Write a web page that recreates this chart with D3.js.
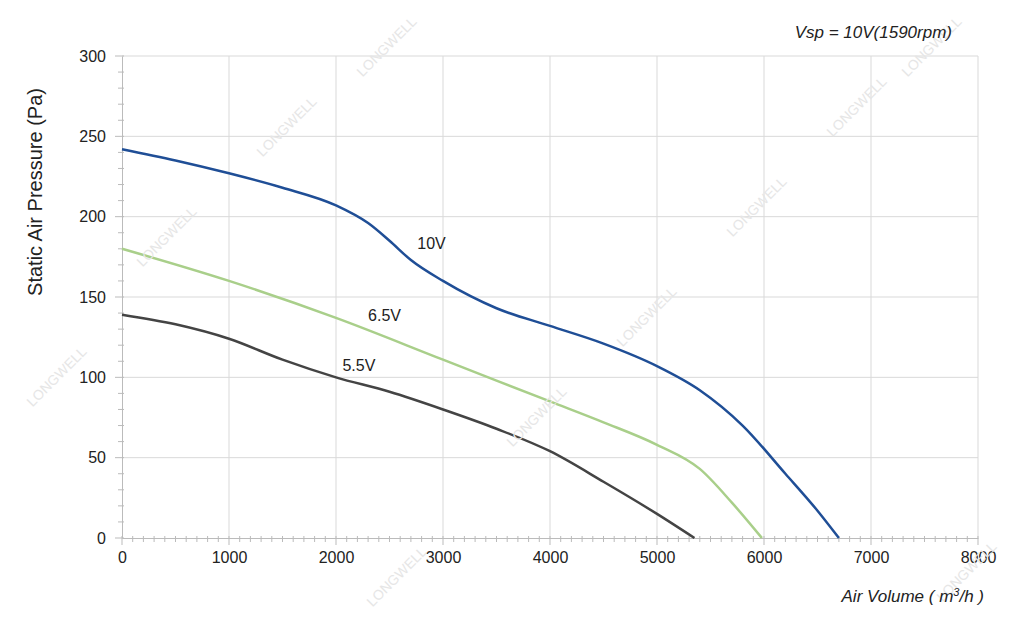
<!DOCTYPE html>
<html><head><meta charset="utf-8">
<script src="https://cdn.jsdelivr.net/npm/d3@7"></script>
<style>body{margin:0;background:#fff}text{font-family:"Liberation Sans",Arial,sans-serif}</style>
</head><body><svg id="c" width="1024" height="628"></svg>
<script>
// data
const curve10 = [[0,242],[500,235],[1000,227],[1500,218],[2000,207],[2300,196],[2500,185],[2700,173],[3000,160],[3500,143],[4000,132],[4500,121],[5000,107],[5400,92],[5800,70],[6200,40],[6500,17],[6700,0]];
const curve65 = [[0,180],[1000,160],[2000,137],[3000,111],[4000,85],[4500,72],[5000,58],[5400,43],[5700,22],[5980,0]];
const curve55 = [[0,139],[500,133],[1000,124],[1500,111],[2000,100],[2500,91],[3000,80],[3500,68],[4000,54],[4500,35],[5000,15],[5350,0]];
const series = [
  {name: "10V", pts: curve10, color: "#1f4e96", label: [2760, 180]},
  {name: "6.5V", pts: curve65, color: "#a9cf8a", label: [2300, 135]},
  {name: "5.5V", pts: curve55, color: "#444444", label: [2060, 104]}
];

const svg = d3.select("#c");
const m = {left: 122, right: 46, top: 56, bottom: 90};
const w = 1024 - m.left - m.right, h = 628 - m.top - m.bottom;
const g = svg.append("g").attr("transform", `translate(${m.left},${m.top})`);

// 水印
[[60,380],[170,240],[290,130],[390,50],[400,580],[540,420],[650,320],[760,210],[860,110],[935,50],[970,575]].forEach(([x,y]) => {
  svg.append("text").attr("transform", `translate(${x},${y}) rotate(-45)`)
    .attr("text-anchor", "middle").attr("font-size", 14).attr("fill", "#e6e6e6").text("LONGWELL");
});

const x = d3.scaleLinear().domain([0, 8000]).range([0, w]);
const y = d3.scaleLinear().domain([0, 300]).range([h, 0]);

// 网格
g.append("g").selectAll("line").data(d3.range(1000, 8001, 1000)).join("line")
  .attr("x1", d => x(d)).attr("x2", d => x(d)).attr("y1", 0).attr("y2", h).attr("stroke", "#d9d9d9");
g.append("g").selectAll("line").data(d3.range(50, 301, 50)).join("line")
  .attr("x1", 0).attr("x2", w).attr("y1", d => y(d)).attr("y2", d => y(d)).attr("stroke", "#d9d9d9");

// 坐标轴
const ax = g.append("g").attr("transform", `translate(0,${h})`)
  .call(d3.axisBottom(x).ticks(8).tickSize(0).tickPadding(14).tickFormat(d3.format("d")));
const ay = g.append("g").call(d3.axisLeft(y).ticks(6).tickSize(0).tickPadding(16));
[ax, ay].forEach(a => { a.select(".domain").attr("stroke", "#bbb"); a.selectAll("text").attr("font-size", 16).attr("fill", "#222"); });
g.append("g").selectAll("line").data(d3.range(0, 8001, 100)).join("line")
  .attr("x1", d => x(d)).attr("x2", d => x(d)).attr("y1", h - 2).attr("y2", d => h + (d % 1000 ? 4 : 7)).attr("stroke", "#bbb");
g.append("g").selectAll("line").data(d3.range(0, 301, 10)).join("line")
  .attr("y1", d => y(d)).attr("y2", d => y(d)).attr("x1", 2).attr("x2", d => d % 50 ? -4 : -7).attr("stroke", "#bbb");

// 曲线
const line = d3.line().x(d => x(d[0])).y(d => y(d[1])).curve(d3.curveMonotoneX);
series.forEach(s => {
  g.append("path").attr("d", line(s.pts)).attr("fill", "none").attr("stroke", s.color).attr("stroke-width", 2.5);
  g.append("text").attr("x", x(s.label[0])).attr("y", y(s.label[1])).attr("font-size", 16).attr("fill", "#222").text(s.name);
});

// 标题
svg.append("text").attr("transform", "translate(42,192) rotate(-90)").attr("text-anchor", "middle")
  .attr("font-size", 20).attr("fill", "#222").text("Static Air Pressure  (Pa)");
svg.append("text").attr("x", 984).attr("y", 602).attr("text-anchor", "end").attr("font-size", 17)
  .attr("font-style", "italic").attr("fill", "#222").html("Air Volume ( m<tspan dy='-6' font-size='11'>3</tspan><tspan dy='6'>/h )</tspan>");
svg.append("text").attr("x", 952).attr("y", 38).attr("text-anchor", "end").attr("font-size", 17)
  .attr("font-style", "italic").attr("fill", "#222").text("Vsp = 10V(1590rpm)");
</script></body></html>
